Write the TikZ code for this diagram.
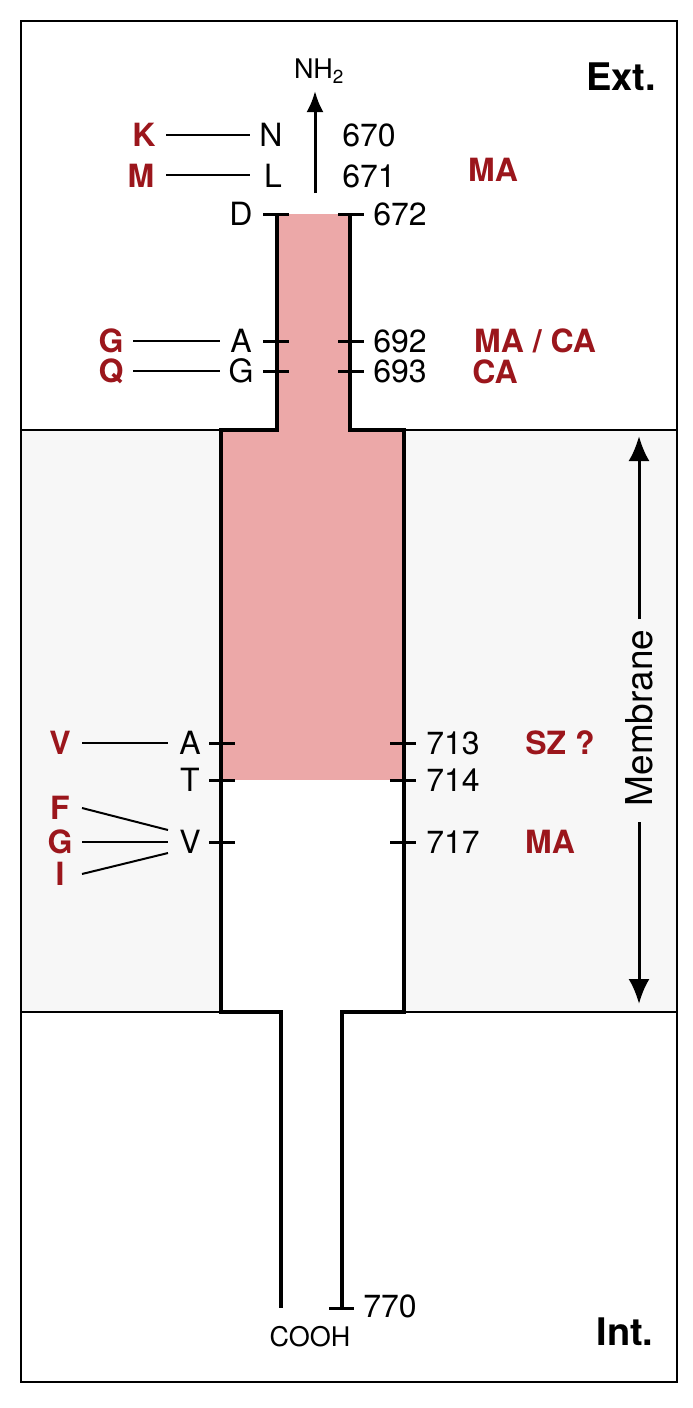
\documentclass[tikz,border=0pt]{standalone}
\usepackage{fontspec}
\setmainfont{TeX Gyre Heros}
\usetikzlibrary{arrows.meta}
\definecolor{lblred}{RGB}{155,22,28}
\definecolor{pinkfill}{RGB}{236,168,168}
\definecolor{membg}{RGB}{247,247,247}
\tikzset{
  res/.style={font=\fontsize{32}{32}\selectfont, inner sep=0pt, anchor=center},
  num/.style={font=\fontsize{32}{32}\selectfont, inner sep=0pt, anchor=center},
  mut/.style={font=\fontsize{32}{32}\selectfont\bfseries, text=lblred, inner sep=0pt, anchor=center},
  region/.style={font=\fontsize{38}{38}\selectfont\bfseries, inner sep=0pt, anchor=center},
  stem/.style={line width=4pt, line join=miter, line cap=butt},
  tickln/.style={line width=3pt},
  link/.style={line width=2pt},
  frame/.style={line width=2.2pt},
  arr/.style={line width=3pt, -{Latex[length=21pt,width=17pt]}},
  memarr/.style={line width=3pt, -{Latex[length=25pt,width=21pt]}}
}
\begin{document}
\begin{tikzpicture}[x=1pt,y=-1pt]
\useasboundingbox (0,0) rectangle (693,1408);
% backgrounds
\fill[white] (0,0) rectangle (693,1408);
\fill[membg] (21,430) rectangle (677,1012);
\fill[white] (221,430) rectangle (404,1012);
% pink shading
\fill[pinkfill] (277,214) rectangle (350,432);
\fill[pinkfill] (221,430) rectangle (404,780);
% frame and boundaries
\draw[frame] (21,21) rectangle (677,1382);
\draw[line width=2.6pt] (21,430) -- (221,430);
\draw[line width=2.6pt] (404,430) -- (677,430);
\draw[line width=2.6pt] (21,1012) -- (221,1012);
\draw[line width=2.6pt] (404,1012) -- (677,1012);
% protein outline
\coordinate (lt) at (277,214);
\coordinate (rt) at (350,214);
\coordinate (lb) at (281,1308);
\coordinate (rb) at (342,1308);
\draw[stem] (lt) -- (277,430) -- (221,430) -- (221,1012) -- (281,1012) -- (lb);
\draw[stem] (rt) -- (350,430) -- (404,430) -- (404,1012) -- (342,1012) -- (rb);
% ticks
\foreach \y in {214,341,371} {
  \draw[tickln] (263,\y) -- (289,\y);
  \draw[tickln] (338,\y) -- (364,\y);
}
\foreach \y in {743,780,842} {
  \draw[tickln] (209,\y) -- (235,\y);
  \draw[tickln] (390,\y) -- (416,\y);
}
\draw[tickln] (329,1308) -- (354,1308);
% N-terminus arrow
\node[font=\fontsize{27}{27}\selectfont, inner sep=0pt] (nh2) at (319,71) {NH\textsubscript{2}};
\coordinate (arrbot) at (315,193);
\coordinate (arrtop) at (315,91);
\draw[arr] (arrbot) -- (arrtop);
% residues
\node[res] (rN) at (271,135) {N};
\node[res] (rL) at (273,176) {L};
\node[res] (rD) at (241,214) {D};
\node[res] (rA1) at (241,341) {A};
\node[res] (rG1) at (241,371) {G};
\node[res] (rA2) at (190,743) {A};
\node[res] (rT) at (190,780) {T};
\node[res] (rV) at (190,842) {V};
% numbers
\node[num] (n670) at (369,135) {670};
\node[num] (n671) at (369,176) {671};
\node[num] (n672) at (400,214) {672};
\node[num] (n692) at (400,341) {692};
\node[num] (n693) at (400,371) {693};
\node[num] (n713) at (453,743) {713};
\node[num] (n714) at (453,780) {714};
\node[num] (n717) at (453,842) {717};
\node[num] (n770) at (390,1306) {770};
% mutants
\node[mut] (mK) at (144,135) {K};
\node[mut] (mM) at (141,176) {M};
\node[mut] (mG1) at (111,341) {G};
\node[mut] (mQ) at (111,371) {Q};
\node[mut] (mV) at (60,743) {V};
\node[mut] (mF) at (60,808) {F};
\node[mut] (mG2) at (60,842) {G};
\node[mut] (mI) at (60,874) {I};
% phenotypes
\node[mut] (pMA1) at (493,170) {MA};
\node[mut] (pMACA) at (535,341) {MA / CA};
\node[mut] (pCA) at (495,372) {CA};
\node[mut] (pSZ) at (560,743) {SZ ?};
\node[mut] (pMA2) at (550,842) {MA};
% connecting lines
\draw[link] (166,135) -- (250,135);
\draw[link] (166,175) -- (250,175);
\draw[link] (133,341) -- (220,341);
\draw[link] (133,371) -- (220,371);
\draw[link] (82,743) -- (168,743);
\draw[link] (82,808) -- (168,830);
\draw[link] (82,842) -- (168,842);
\draw[link] (82,874) -- (168,853);
% C-terminus
\node[font=\fontsize{27}{27}\selectfont, inner sep=0pt] (cooh) at (310,1337) {COOH};
% region labels
\node[region] (ext) at (621,77) {Ext.};
\node[region] (int) at (625,1332) {Int.};
% membrane
\node[font=\fontsize{37}{37}\selectfont, rotate=90, inner sep=0pt] (mem) at (639,718) {Membrane};
\coordinate (memtop) at (639,436);
\coordinate (membot) at (639,1004);
\draw[memarr] (639,619) -- (memtop);
\draw[memarr] (639,822) -- (membot);
\end{tikzpicture}
\end{document}
